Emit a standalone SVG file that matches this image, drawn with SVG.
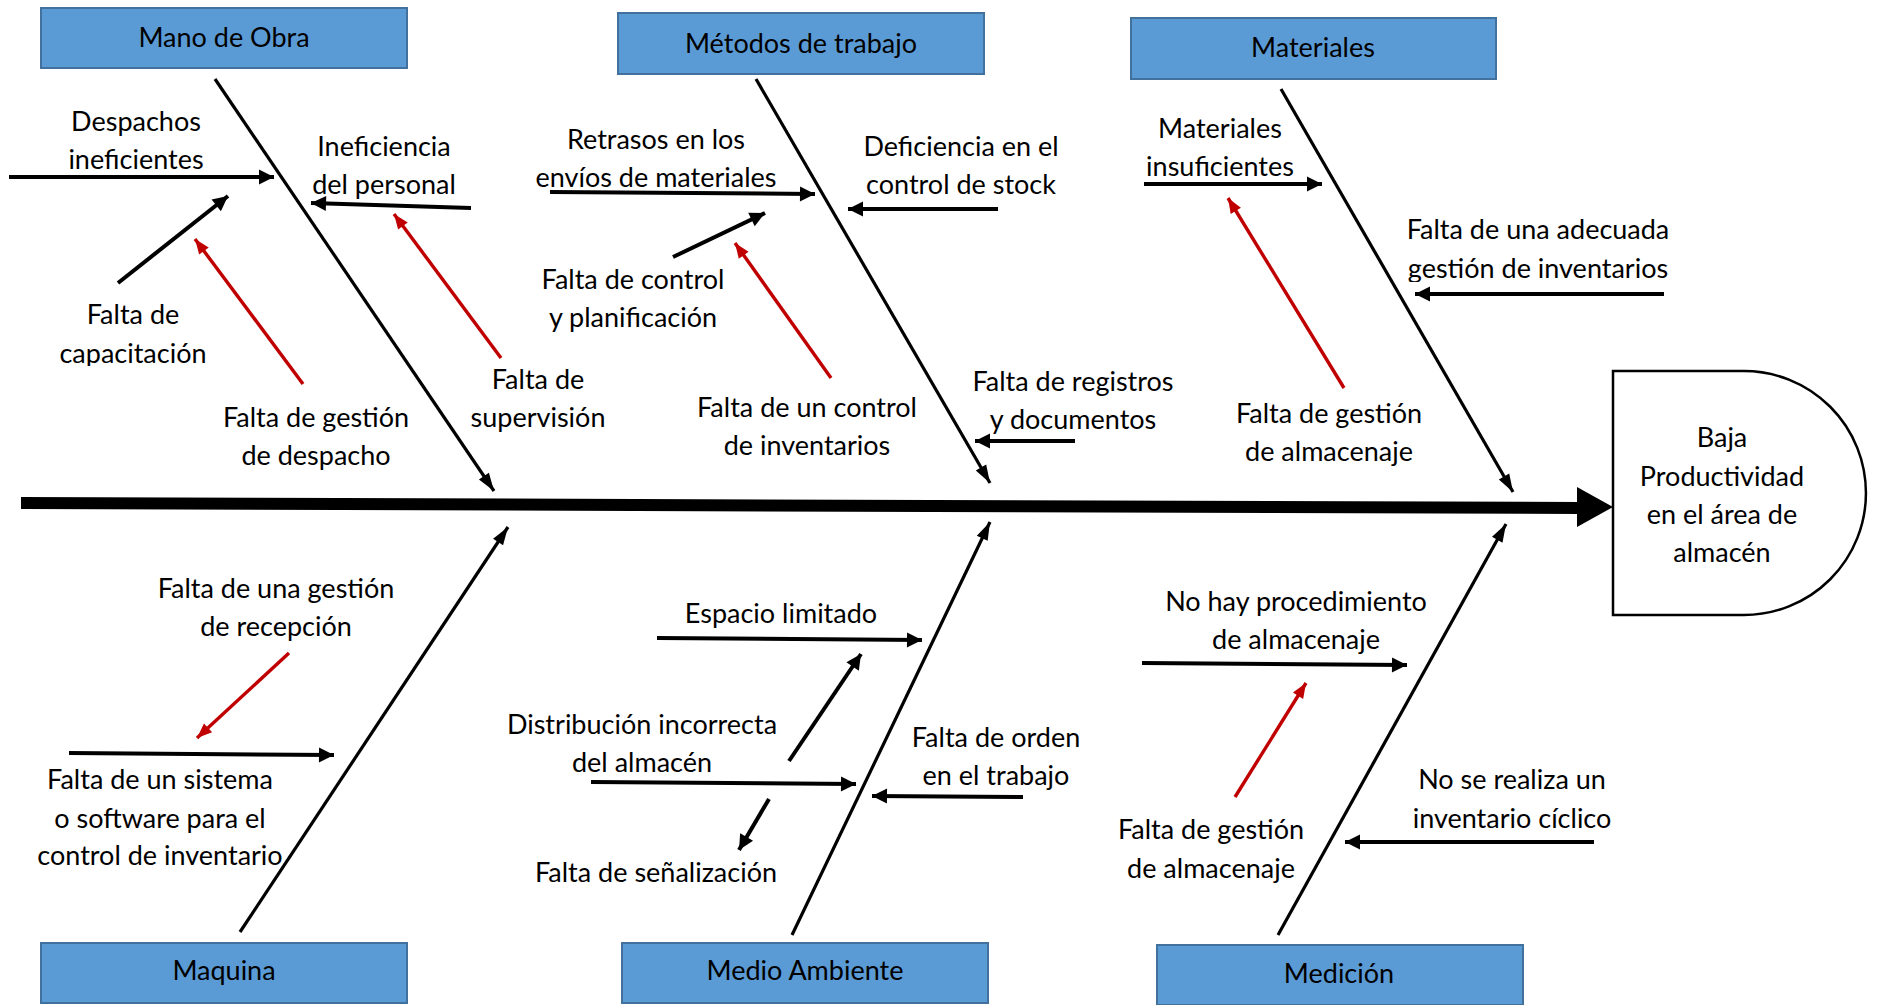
<svg xmlns="http://www.w3.org/2000/svg" width="1877" height="1005" viewBox="0 0 1877 1005">
<defs>
<style>
.box{fill:#5B9BD5;stroke:#41719C;stroke-width:2}
.t{font-family:Lato,"Liberation Sans",sans-serif;font-size:27px;fill:#000;text-anchor:middle}
.bone{stroke:#000;stroke-width:3.2;fill:none}
.blk{stroke:#000;stroke-width:4;fill:none}
.red{stroke:#C00000;stroke-width:3.4;fill:none}
</style>
<marker id="mb" markerUnits="userSpaceOnUse" markerWidth="18" markerHeight="12" refX="18" refY="6" orient="auto" overflow="visible"><path d="M0,0 L18,6 L0,12 z" fill="#000"/></marker>
<marker id="mk" markerUnits="userSpaceOnUse" markerWidth="15" markerHeight="15" refX="15" refY="7.5" orient="auto" overflow="visible"><path d="M0,0 L15,7.5 L0,15 z" fill="#000"/></marker>
<marker id="mr" markerUnits="userSpaceOnUse" markerWidth="15" markerHeight="12" refX="15" refY="6" orient="auto" overflow="visible"><path d="M0,0 L15,6 L0,12 z" fill="#C00000"/></marker>
<clipPath id="c1"><rect x="0" y="290" width="300" height="76"/></clipPath>
<clipPath id="c2"><rect x="1380" y="200" width="300" height="82"/></clipPath>
</defs>

<g id="connectors">
<line x1="21" y1="503" x2="1580" y2="508" stroke="#000" stroke-width="12"/>
<polygon points="1577,487 1613,507 1577,527" fill="#000"/>
<line class="bone" x1="215" y1="79" x2="494" y2="491" marker-end="url(#mb)"/>
<line class="bone" x1="756" y1="79" x2="990" y2="483" marker-end="url(#mb)"/>
<line class="bone" x1="1281" y1="89" x2="1513" y2="492" marker-end="url(#mb)"/>
<line class="bone" x1="240" y1="932" x2="508" y2="527" marker-end="url(#mb)"/>
<line class="bone" x1="792" y1="935" x2="990" y2="522" marker-end="url(#mb)"/>
<line class="bone" x1="1278" y1="935" x2="1506" y2="524" marker-end="url(#mb)"/>
<line class="blk" x1="9" y1="177" x2="274" y2="177" marker-end="url(#mk)"/>
<line class="blk" x1="118" y1="283" x2="228" y2="196" marker-end="url(#mk)"/>
<line class="blk" x1="471" y1="208" x2="311" y2="203" marker-end="url(#mk)"/>
<line class="blk" x1="550" y1="192" x2="815" y2="194" marker-end="url(#mk)"/>
<line class="blk" x1="673" y1="257" x2="765" y2="213" marker-end="url(#mk)"/>
<line class="blk" x1="998" y1="209" x2="848" y2="209" marker-end="url(#mk)"/>
<line class="blk" x1="1075" y1="441" x2="975" y2="441" marker-end="url(#mk)"/>
<line class="blk" x1="1144" y1="184" x2="1322" y2="184" marker-end="url(#mk)"/>
<line class="blk" x1="1664" y1="294" x2="1415" y2="294" marker-end="url(#mk)"/>
<line class="blk" x1="69" y1="753" x2="334" y2="755" marker-end="url(#mk)"/>
<line class="blk" x1="657" y1="638" x2="922" y2="640" marker-end="url(#mk)"/>
<line class="blk" x1="789" y1="761" x2="861" y2="654" marker-end="url(#mk)"/>
<line class="blk" x1="591" y1="782" x2="856" y2="784" marker-end="url(#mk)"/>
<line class="blk" x1="769" y1="799" x2="739" y2="850" marker-end="url(#mk)"/>
<line class="blk" x1="1023" y1="797" x2="872" y2="796" marker-end="url(#mk)"/>
<line class="blk" x1="1142" y1="663" x2="1407" y2="665" marker-end="url(#mk)"/>
<line class="blk" x1="1594" y1="842" x2="1345" y2="842" marker-end="url(#mk)"/>
<line class="red" x1="303" y1="384" x2="195" y2="239" marker-end="url(#mr)"/>
<line class="red" x1="501" y1="358" x2="394" y2="214" marker-end="url(#mr)"/>
<line class="red" x1="831" y1="378" x2="735" y2="243" marker-end="url(#mr)"/>
<line class="red" x1="1344" y1="388" x2="1228" y2="198" marker-end="url(#mr)"/>
<line class="red" x1="289" y1="653" x2="197" y2="738" marker-end="url(#mr)"/>
<line class="red" x1="1235" y1="797" x2="1306" y2="683" marker-end="url(#mr)"/>
</g>

<g id="mano-de-obra"><rect class="box" x="41" y="8" width="366" height="60"/><text class="t" x="224" y="47">Mano de Obra</text></g>
<g id="metodos"><rect class="box" x="618" y="13" width="366" height="61"/><text class="t" x="801" y="53">Métodos de trabajo</text></g>
<g id="materiales"><rect class="box" x="1131" y="18" width="365" height="61"/><text class="t" x="1313" y="57">Materiales</text></g>
<g id="maquina"><rect class="box" x="41" y="943" width="366" height="60"/><text class="t" x="224" y="980">Maquina</text></g>
<g id="medio-ambiente"><rect class="box" x="622" y="943" width="366" height="60"/><text class="t" x="805" y="980">Medio Ambiente</text></g>
<g id="medicion"><rect class="box" x="1157" y="945" width="366" height="60"/><text class="t" x="1339" y="983">Medición</text></g>

<g id="efecto"><path d="M1613,371 H1744 A122,122 0 0 1 1744,615 H1613 Z" fill="#fff" stroke="#000" stroke-width="2.5"/>
<text class="t" x="1722" y="447">Baja</text><text class="t" x="1722" y="486">Productividad</text><text class="t" x="1722" y="524">en el área de</text><text class="t" x="1722" y="562">almacén</text></g>

<g id="c-despachos"><text class="t" x="136" y="131">Despachos</text><text class="t" x="136" y="169">ineficientes</text></g>
<g id="c-ineficiencia"><text class="t" x="384" y="156">Ineficiencia</text><text class="t" x="384" y="194">del personal</text></g>
<g id="c-capacitacion" clip-path="url(#c1)"><text class="t" x="133" y="324">Falta de</text><text class="t" x="133" y="363">capacitación</text></g>
<g id="c-gestion-despacho"><text class="t" x="316" y="427">Falta de gestión</text><text class="t" x="316" y="465">de despacho</text></g>
<g id="c-supervision"><text class="t" x="538" y="389">Falta de</text><text class="t" x="538" y="427">supervisión</text></g>
<g id="c-retrasos"><text class="t" x="656" y="149">Retrasos en los</text><text class="t" x="656" y="187">envíos de materiales</text></g>
<g id="c-deficiencia"><text class="t" x="961" y="156">Deficiencia en el</text><text class="t" x="961" y="194">control de stock</text></g>
<g id="c-control-planif"><text class="t" x="633" y="289">Falta de control</text><text class="t" x="633" y="327">y planificación</text></g>
<g id="c-control-inv"><text class="t" x="807" y="417">Falta de un control</text><text class="t" x="807" y="455">de inventarios</text></g>
<g id="c-registros"><text class="t" x="1073" y="391">Falta de registros</text><text class="t" x="1073" y="429">y documentos</text></g>
<g id="c-mat-insuf"><text class="t" x="1220" y="138">Materiales</text><text class="t" x="1220" y="176">insuficientes</text></g>
<g id="c-adecuada" clip-path="url(#c2)"><text class="t" x="1538" y="239">Falta de una adecuada</text><text class="t" x="1538" y="278">gestión de inventarios</text></g>
<g id="c-almacenaje1"><text class="t" x="1329" y="423">Falta de gestión</text><text class="t" x="1329" y="461">de almacenaje</text></g>
<g id="c-recepcion"><text class="t" x="276" y="598">Falta de una gestión</text><text class="t" x="276" y="636">de recepción</text></g>
<g id="c-sistema"><text class="t" x="160" y="789">Falta de un sistema</text><text class="t" x="160" y="828">o software para el</text><text class="t" x="160" y="865">control de inventario</text></g>
<g id="c-espacio"><text class="t" x="781" y="623">Espacio limitado</text></g>
<g id="c-distribucion"><text class="t" x="642" y="734">Distribución incorrecta</text><text class="t" x="642" y="772">del almacén</text></g>
<g id="c-senalizacion"><text class="t" x="656" y="882">Falta de señalización</text></g>
<g id="c-orden"><text class="t" x="996" y="747">Falta de orden</text><text class="t" x="996" y="785">en el trabajo</text></g>
<g id="c-procedimiento"><text class="t" x="1296" y="611">No hay procedimiento</text><text class="t" x="1296" y="649">de almacenaje</text></g>
<g id="c-almacenaje2"><text class="t" x="1211" y="839">Falta de gestión</text><text class="t" x="1211" y="878">de almacenaje</text></g>
<g id="c-ciclico"><text class="t" x="1512" y="789">No se realiza un</text><text class="t" x="1512" y="828">inventario cíclico</text></g>
</svg>
